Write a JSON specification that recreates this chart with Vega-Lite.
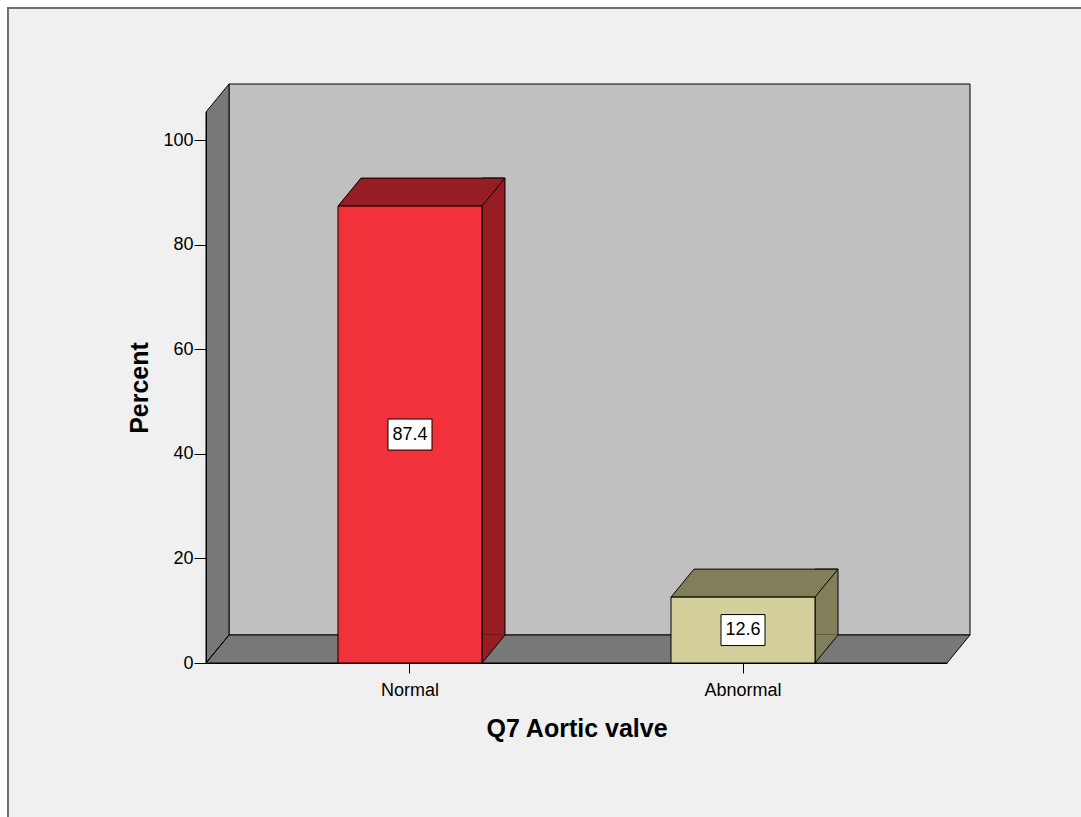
{
  "$schema": "https://vega.github.io/schema/vega-lite/v6.json",
  "width": 741,
  "height": 551,
  "autosize": {"type": "none"},
  "padding": {"left": 206, "top": 112, "right": 134, "bottom": 154},
  "background": "white",
  "config": {
    "view": {"stroke": null},
    "font": "Liberation Sans",
    "axis": {
      "grid": false,
      "domainColor": "black",
      "tickColor": "black",
      "labelColor": "black",
      "titleColor": "black",
      "labelFont": "Liberation Sans",
      "titleFont": "Liberation Sans",
      "labelFontSize": 18,
      "titleFontSize": 25,
      "titleFontWeight": "bold"
    }
  },
  "data": {
    "values": [
      {"valve": "Normal", "percent": 87.4},
      {"valve": "Abnormal", "percent": 12.6}
    ]
  },
  "layer": [
    {
      "data": {"values": [{}]},
      "mark": {"type": "point", "shape": "M -198 -655 H 879 V 158 H -198 Z", "size": 4, "fill": "#f0f0f0", "stroke": "#707070", "strokeWidth": 2, "opacity": 1},
      "encoding": {"x": {"value": 0}, "y": {"datum": 0, "type": "quantitative"}}
    },
    {
      "data": {"values": [{}]},
      "mark": {"type": "point", "shape": "M 23 -579 H 764 V -28 H 23 Z", "size": 4, "fill": "#c0c0c0", "stroke": "black", "strokeWidth": 1, "opacity": 1},
      "encoding": {"x": {"value": 0}, "y": {"datum": 0, "type": "quantitative"}}
    },
    {
      "data": {"values": [{}]},
      "mark": {"type": "point", "shape": "M 0 -551 L 23 -579 L 23 -28 L 0 0 Z M 0 0 L 23 -28 L 764 -28 L 741 0 Z", "size": 4, "fill": "#787878", "stroke": "black", "strokeWidth": 1, "opacity": 1},
      "encoding": {"x": {"value": 0}, "y": {"datum": 0, "type": "quantitative"}}
    },
    {
      "mark": {"type": "bar", "width": 23, "xOffset": 83.5, "yOffset": -28, "y2Offset": -28, "stroke": "black", "strokeWidth": 1},
      "encoding": {
        "x": {"field": "valve", "type": "nominal", "sort": ["Normal", "Abnormal"], "title": "Q7 Aortic valve",
              "scale": {"paddingInner": 0, "paddingOuter": 0.1126}},
        "y": {"field": "percent", "type": "quantitative", "title": "Percent", "scale": {"domain": [0, 105.4], "nice": false}},
        "y2": {"datum": 0},
        "fill": {"condition": {"test": "datum.valve === 'Normal'", "value": "#951d23"}, "value": "#817e5a"}
      }
    },
    {
      "mark": {"type": "point", "shape": "M 95 -28.6 L 95 -28 L 72 0 L 72 -28.6", "size": 4, "stroke": "black", "strokeWidth": 1, "opacity": 1},
      "encoding": {
        "x": {"field": "valve", "type": "nominal", "sort": ["Normal", "Abnormal"], "title": "Q7 Aortic valve"},
        "y": {"datum": 0, "type": "quantitative"},
        "fill": {"condition": {"test": "datum.valve === 'Normal'", "value": "#951d23"}, "value": "#817e5a"}
      }
    },
    {
      "mark": {"type": "point", "shape": "M -72 0 L 72 0 L 95 -28 L -49 -28 Z", "size": 4, "stroke": "black", "strokeWidth": 1, "opacity": 1},
      "encoding": {
        "x": {"field": "valve", "type": "nominal", "sort": ["Normal", "Abnormal"], "title": "Q7 Aortic valve"},
        "y": {"field": "percent", "type": "quantitative", "title": "Percent"},
        "fill": {"condition": {"test": "datum.valve === 'Normal'", "value": "#951d23"}, "value": "#817e5a"}
      }
    },
    {
      "mark": {"type": "bar", "width": 144, "stroke": "black", "strokeWidth": 1},
      "encoding": {
        "x": {"field": "valve", "type": "nominal", "sort": ["Normal", "Abnormal"], "title": "Q7 Aortic valve",
              "axis": {"zindex": 2, "labelAngle": 0, "labelAlign": "center", "labelBaseline": "top", "tickSize": 10, "labelPadding": 8, "titlePadding": 17}},
        "y": {"field": "percent", "type": "quantitative", "title": "Percent",
              "axis": {"zindex": 2, "values": [0, 20, 40, 60, 80, 100], "tickSize": 12, "labelPadding": 1, "titlePadding": 10}},
        "y2": {"datum": 0},
        "fill": {"condition": {"test": "datum.valve === 'Normal'", "value": "#f2323a"}, "value": "#d4d09b"}
      }
    },
    {
      "transform": [{"calculate": "datum.percent / 2", "as": "mid"}],
      "mark": {"type": "point", "shape": "M -22 -15.5 H 22 V 15.5 H -22 Z", "size": 4, "fill": "white", "stroke": "black", "strokeWidth": 1, "opacity": 1},
      "encoding": {
        "x": {"field": "valve", "type": "nominal", "sort": ["Normal", "Abnormal"], "title": "Q7 Aortic valve"},
        "y": {"field": "mid", "type": "quantitative", "title": "Percent"}
      }
    },
    {
      "transform": [{"calculate": "datum.percent / 2", "as": "mid"}],
      "mark": {"type": "text", "fontSize": 18, "font": "Liberation Sans", "color": "black", "align": "center", "baseline": "middle"},
      "encoding": {
        "x": {"field": "valve", "type": "nominal", "sort": ["Normal", "Abnormal"], "title": "Q7 Aortic valve"},
        "y": {"field": "mid", "type": "quantitative", "title": "Percent"},
        "text": {"field": "percent", "type": "quantitative", "format": ".1f"}
      }
    }
  ]
}
